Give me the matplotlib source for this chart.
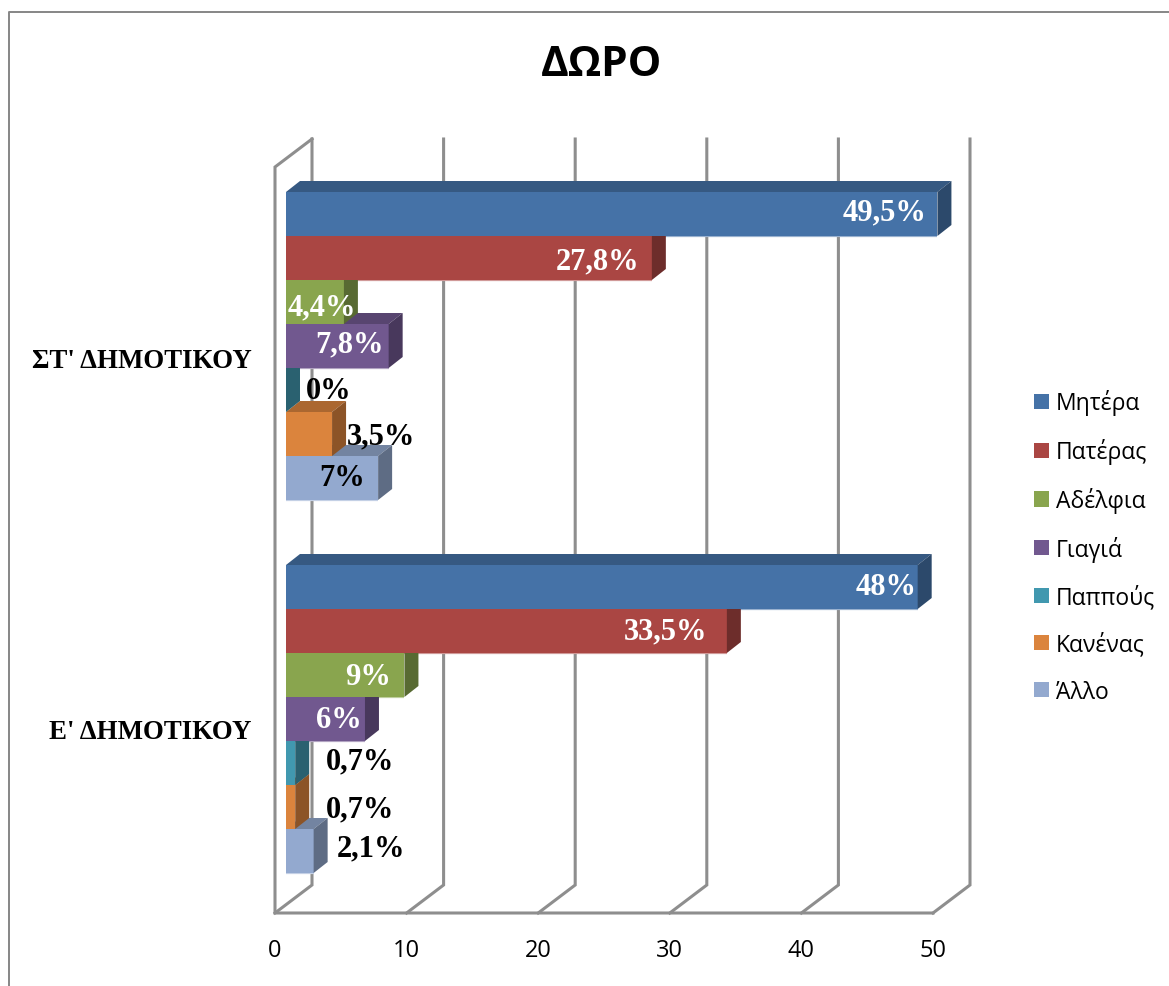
import matplotlib.pyplot as plt
from matplotlib.lines import Line2D
from matplotlib.patches import Patch, Polygon
from matplotlib.colors import to_rgb
from matplotlib.transforms import Affine2D

plt.rcParams['font.family'] = ['Open Sans', 'DejaVu Sans']

categories = ["Ε' ΔΗΜΟΤΙΚΟΥ", "ΣΤ' ΔΗΜΟΤΙΚΟΥ"]
series_names = ['Μητέρα', 'Πατέρας', 'Αδέλφια', 'Γιαγιά', 'Παππούς', 'Κανένας', 'Άλλο']

# one pair per person: [Ε', ΣΤ']
mitera = [48, 49.5]
pateras = [33.5, 27.8]
adelfia = [9, 4.4]
giagia = [6, 7.8]
pappous = [0.7, 0]
kanenas = [0.7, 3.5]
allo = [2.1, 7]
series_values = [mitera, pateras, adelfia, giagia, pappous, kanenas, allo]

colors = ['#4572a7', '#aa4643', '#89a54e', '#71588f', '#4198af', '#db843d', '#93a9cf']
x_ticks = [0, 10, 20, 30, 40, 50]

# label nudges in pixels from the end of each bar, per person [Ε', ΣΤ']
label_dx = [[-32, -53], [-61, -54], [-36, -22], [-26, -39], [65, 43], [65, 49], [57, -36]]
label_dy = [[0, 2], [0, -3], [-2, -5], [-1, 2], [2, -1], [-2, -2], [3, 0]]
# white text on the bars, black where it falls outside
label_white = [[1, 1], [1, 1], [1, 1], [1, 1], [0, 0], [0, 0], [0, 0]]

W, H = 1169, 987
PX_X = 658 / 50   # pixels per value unit
PX_Y = 373        # pixels per category

# 3d offsets in data units
WALL_DX, WALL_DY = 37 / PX_X, 28 / PX_Y
BAR_X0, BAR_Y0 = 11 / PX_X, 7.5 / PX_Y
BAR_DX, BAR_DY = 14 / PX_X, 11 / PX_Y
BAR_H = 44 / PX_Y
GRID = '#8e8e8e'


def shade(color, k):
    return tuple(c * k for c in to_rgb(color))


def tint(color, k):
    return tuple(c + (1 - c) * k for c in to_rgb(color))


fig = plt.figure(figsize=(W / 100, H / 100), dpi=100)
ax = fig.add_axes([275 / W, (H - 914) / H, 658 / W, 746 / H])
ax.set_xlim(0, 50)
ax.set_ylim(-0.5, 1.5)
for s in ax.spines.values():
    s.set_visible(False)

# walls and floor
y0, y1 = -0.5, 1.5
for t in x_ticks:
    ax.plot([t, t + WALL_DX, t + WALL_DX], [y0, y0 + WALL_DY, y1 + WALL_DY],
            color=GRID, lw=2.2, clip_on=False, zorder=1, solid_joinstyle='miter')
ax.plot([WALL_DX, 0, 0, 50], [y1 + WALL_DY, y1, y0, y0],
        color=GRID, lw=2.2, clip_on=False, zorder=1, solid_joinstyle='miter')

# bars, bottom slot first so each one hides the top of the bar below it
for i in range(len(series_names) - 1, -1, -1):
    vals, col = series_values[i], colors[i]
    z = 3 + (len(series_names) - i)
    for c, v in enumerate(vals):
        yc = c + BAR_Y0 + (3 - i) * BAR_H
        lo, hi = yc - BAR_H / 2, yc + BAR_H / 2
        x0 = BAR_X0
        x1 = BAR_X0 + v
        # pale lower edge, only shows where no other bar covers it
        ax.plot([x0, x1], [lo, lo], color=tint(col, 0.45), lw=1.6,
                clip_on=False, zorder=2, solid_capstyle='butt')
        ax.barh(yc, v, left=x0, height=BAR_H, color=col, linewidth=0, zorder=z, clip_on=False)
        top = [(x0, hi), (x0 + BAR_DX, hi + BAR_DY), (x1 + BAR_DX, hi + BAR_DY), (x1, hi)]
        side = [(x1, lo), (x1 + BAR_DX, lo + BAR_DY), (x1 + BAR_DX, hi + BAR_DY), (x1, hi)]
        ax.add_patch(Polygon(top, closed=True, fc=shade(col, 0.78), ec='none', zorder=z, clip_on=False))
        ax.add_patch(Polygon(side, closed=True, fc=shade(col, 0.64), ec='none', zorder=z, clip_on=False))

        text = f'{v:g}'.replace('.', ',') + '%'
        ax.annotate(text, (x1, yc), xytext=(label_dx[i][c], label_dy[i][c]),
                    textcoords='offset pixels', ha='center', va='center',
                    family='Liberation Serif', weight='bold', fontsize=22,
                    color='white' if label_white[i][c] else 'black',
                    zorder=20, annotation_clip=False)

ax.set_xticks(x_ticks)
ax.set_yticks([0, 1], labels=categories)
ax.tick_params(axis='x', length=0, pad=18, labelsize=17, labelcolor='black')
ax.tick_params(axis='y', length=0, pad=17, labelsize=19.4)
for lab, dy in zip(ax.get_yticklabels(), [-2, -4.5]):
    lab.set_family('Liberation Serif')
    lab.set_weight('bold')
    lab.set_transform(lab.get_transform() + Affine2D().translate(0, dy))

fig.text(601.5 / W, 1 - 65.5 / H, 'ΔΩΡΟ', ha='center', va='center', fontsize=30.5, weight='bold')

handles = [Patch(fc=c, ec='none', label=n) for c, n in zip(colors, series_names)]
fig.legend(handles=handles, loc='center left', bbox_to_anchor=(1034 / W, 1 - 547.5 / H),
           frameon=False, fontsize=16.5, handlelength=0.65, handleheight=0.65,
           handletextpad=0.3, labelspacing=0.995, borderpad=0, borderaxespad=0)

# chart frame, cut off by the image on the right and at the bottom
fig.add_artist(Line2D([8.5 / W, 8.5 / W, 1], [0, 1 - 12.5 / H, 1 - 12.5 / H],
                      color='#868686', lw=1.4, transform=fig.transFigure))

fig.savefig('out.png', dpi=100)
